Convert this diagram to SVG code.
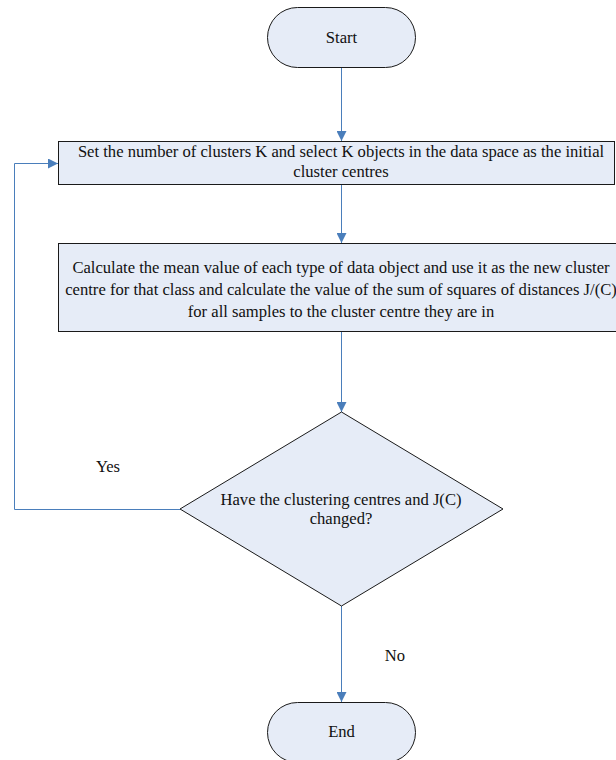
<svg xmlns="http://www.w3.org/2000/svg" width="616" height="760" viewBox="0 0 616 760">
<defs>
<marker id="arr" viewBox="0 0 10 10" refX="10" refY="5" markerWidth="10" markerHeight="10" markerUnits="userSpaceOnUse" orient="auto">
<path d="M0,0 L10,5 L0,10 z" fill="#4a7ebb"/>
</marker>
<style>
.shape{fill:#e6ecf7;stroke:#1a1a1a;stroke-width:1}
.conn{fill:none;stroke:#4a7ebb;stroke-width:1}
text{font-family:"Liberation Serif","Times New Roman",serif;font-size:16.6px;fill:#111;text-anchor:middle}
</style>
</defs>
<rect width="616" height="760" fill="#ffffff"/>
<g id="connectors">
<path class="conn" d="M341.5,67 V141" marker-end="url(#arr)"/>
<path class="conn" d="M341.5,184 V243" marker-end="url(#arr)"/>
<path class="conn" d="M341.5,331 V412" marker-end="url(#arr)"/>
<path class="conn" d="M180,509.5 H14.5 V163.5 H58" marker-end="url(#arr)"/>
<path class="conn" d="M341.5,606 V702" marker-end="url(#arr)"/>
<text x="108" y="472">Yes</text>
<text x="395" y="661">No</text>
</g>
<g id="start">
<rect class="shape" x="267.5" y="7.5" width="148" height="60" rx="30" ry="30"/>
<text x="341.5" y="43">Start</text>
</g>
<g id="init">
<rect class="shape" x="58.5" y="141.5" width="556" height="43"/>
<text x="341" y="157">Set the number of clusters K and select K objects in the data space as the initial</text>
<text x="341" y="177">cluster centres</text>
</g>
<g id="update">
<rect class="shape" x="58.5" y="243.5" width="566" height="88"/>
<text x="341" y="273">Calculate the mean value of each type of data object and use it as the new cluster</text>
<text x="341" y="295">centre for that class and calculate the value of the sum of squares of distances J/(C)</text>
<text x="341" y="317">for all samples to the cluster centre they are in</text>
</g>
<g id="decision">
<polygon class="shape" points="341.5,412 503,509 341.5,606 180,509"/>
<text x="341" y="505">Have the clustering centres and J(C)</text>
<text x="341" y="524">changed?</text>
</g>
<g id="end">
<rect class="shape" x="267.5" y="702.5" width="148" height="60" rx="30" ry="30"/>
<text x="341.5" y="737">End</text>
</g>
</svg>
